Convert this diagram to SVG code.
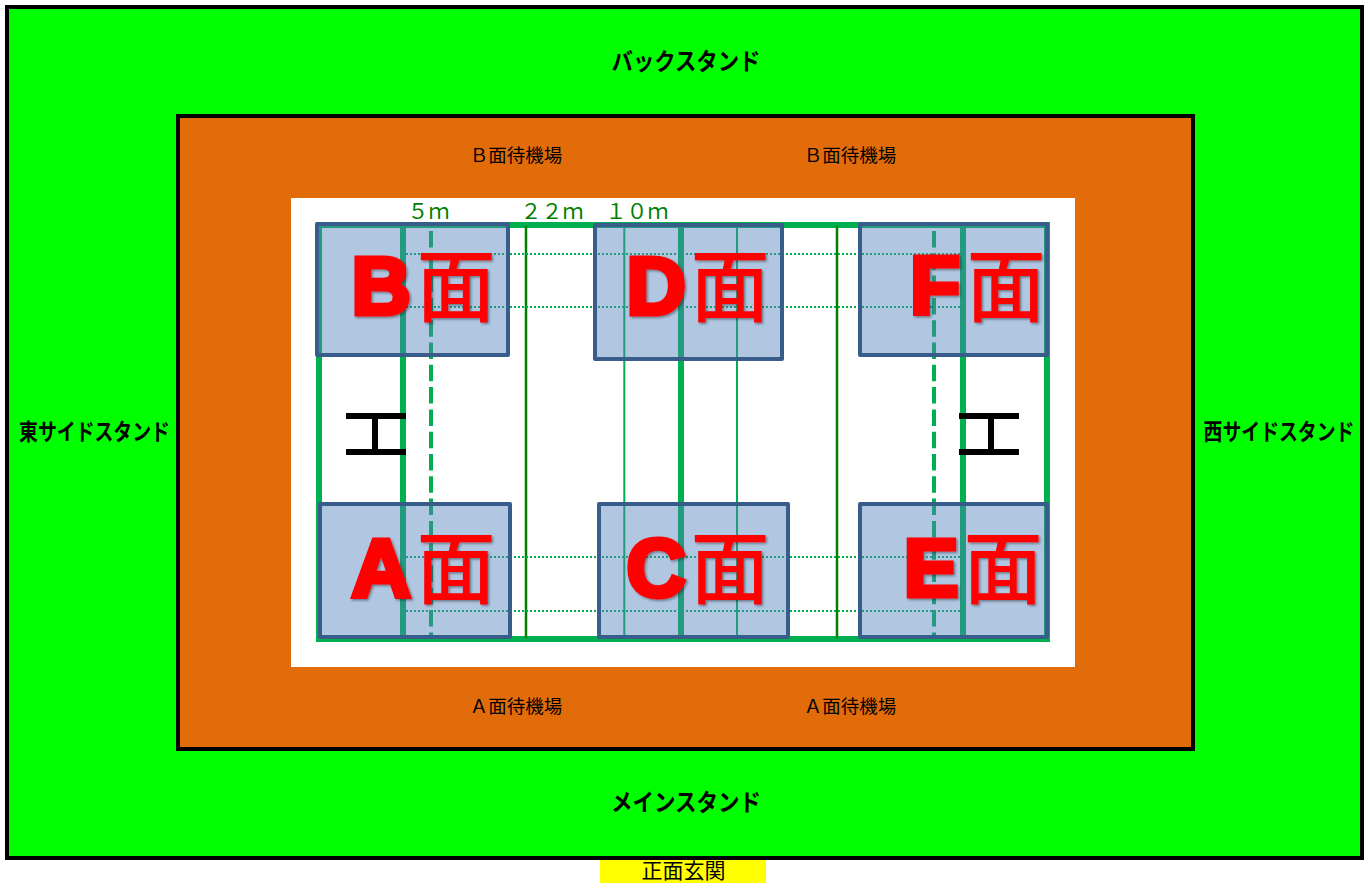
<svg xmlns="http://www.w3.org/2000/svg" width="1370" height="883" viewBox="0 0 1370 883">
<defs>
<filter id="sh" x="-10%" y="-10%" width="125%" height="125%"><feDropShadow dx="1.5" dy="1.5" stdDeviation="1.2" flood-color="#000" flood-opacity="0.4"/></filter>
</defs>
<style>
text{font-family:"Noto Sans CJK JP","Liberation Sans",sans-serif}
.stand{font-size:24px;font-weight:700;text-anchor:middle;fill:#000}
.side{font-size:23px}
.wait{font-size:18.500px;text-anchor:middle;fill:#000}
.dim{font-size:21px;fill:#008000}
.f{fill:none;stroke:#00B050}
.court{fill:#4F81BD;fill-opacity:.45;stroke:#385D8A;stroke-width:4;stroke-linejoin:round}
.ltr{font-family:"Liberation Sans",sans-serif;font-size:82px;font-weight:700;fill:#f00;stroke:#f00;stroke-width:5;text-anchor:middle;filter:url(#sh)}
.men{font-size:79px;font-weight:500;fill:#f00;text-anchor:middle;filter:url(#sh)}
.post{fill:none;stroke:#000;stroke-width:6}
</style>
<rect id="stand" x="7" y="7" width="1355" height="851" fill="#0f0" stroke="#000" stroke-width="4"/>
<rect id="waiting" x="178" y="116" width="1015" height="633" fill="#E36C0A" stroke="#000" stroke-width="4"/>
<rect id="floor" x="291" y="198" width="784" height="469" fill="#fff"/>
<g id="connectors">
<rect class="f" x="319" y="225" width="728" height="414" stroke-width="6"/>
<path class="f" stroke-width="6" d="M403 225V639M681 225V639M963 225V639"/>
<path class="f" stroke-width="4" stroke-dasharray="16.5 5.8" d="M431 231V635M934 231V635"/>
<path fill="none" stroke="#008000" stroke-width="2.5" d="M526 226V638M837 226V638"/>
<path class="f" stroke-width="2" d="M624.300 226V638M737 226V638"/>
<path class="f" stroke-width="2" stroke-dasharray="2 2" d="M406 254H960M406 307H960M406 557H960M406 611H960"/>
<path class="post" d="M346 416H406M346 452H406M375 416V452M959 416H1019M959 452H1019M991 416V452"/>
</g>
<g id="court-B"><rect class="court" x="317" y="224" width="191" height="131"/><text class="ltr" x="381" y="314">B</text><text class="men" x="456" y="316">面</text></g>
<g id="court-D"><rect class="court" x="595" y="225" width="187" height="134"/><text class="ltr" x="656" y="314">D</text><text class="men" x="730" y="316">面</text></g>
<g id="court-F"><rect class="court" x="860" y="224" width="187" height="131"/><text class="ltr" x="935" y="314">F</text><text class="men" x="1006" y="316">面</text></g>
<g id="court-A"><rect class="court" x="320" y="504" width="190" height="133"/><text class="ltr" x="381" y="596">A</text><text class="men" x="456" y="598">面</text></g>
<g id="court-C"><rect class="court" x="599" y="504" width="189" height="133"/><text class="ltr" x="656" y="596">C</text><text class="men" x="730" y="598">面</text></g>
<g id="court-E"><rect class="court" x="860" y="504" width="187" height="133"/><text class="ltr" x="931" y="596">E</text><text class="men" x="1003" y="598">面</text></g>
<g id="labels">
<text class="stand" x="686" y="70" textLength="149" lengthAdjust="spacingAndGlyphs">バックスタンド</text>
<text class="stand" x="686" y="811" textLength="150" lengthAdjust="spacingAndGlyphs">メインスタンド</text>
<text class="stand side" transform="translate(94.500 440) scale(.82 1)">東サイドスタンド</text>
<text class="stand side" transform="translate(1279 440) scale(.82 1)">西サイドスタンド</text>
<text class="wait" x="516" y="162">Ｂ面待機場</text>
<text class="wait" x="850" y="162">Ｂ面待機場</text>
<text class="wait" x="516" y="713">Ａ面待機場</text>
<text class="wait" x="850" y="713">Ａ面待機場</text>
<text class="dim" x="407.500" y="219">５ｍ</text>
<text class="dim" x="520.500" y="219">２２ｍ</text>
<text class="dim" x="605.500" y="219">１０ｍ</text>
</g>
<g id="entrance"><rect x="600" y="860" width="166" height="23" fill="#ff0"/><text x="683.500" y="878" font-size="21" text-anchor="middle" fill="#000">正面玄関</text></g>
</svg>
